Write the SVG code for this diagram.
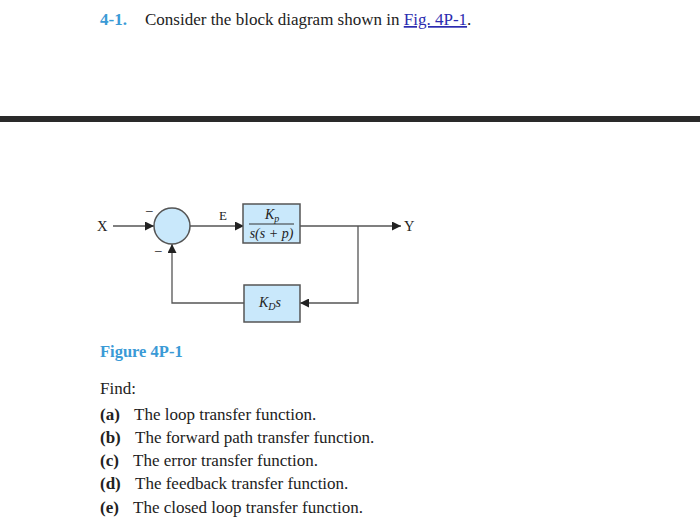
<svg xmlns="http://www.w3.org/2000/svg" width="700" height="530" viewBox="0 0 700 530">
<defs>
<style>
.t{font-family:"Liberation Serif","Times New Roman",serif;fill:#222;}
.txt{font-size:17px;}
.b{font-weight:bold;}
.blue{fill:#3a9ad6;}
.link{fill:#2b2bb0;text-decoration:underline;}
.ln{stroke:#555;stroke-width:1.3;fill:none;}
.blk{fill:#c9e8fb;stroke:#555;stroke-width:1.5;}
.lbl{font-size:14.5px;}
.it{font-style:italic;}
</style>
<marker id="ah" viewBox="0 0 10 10" refX="10" refY="5" markerWidth="9" markerHeight="9" markerUnits="userSpaceOnUse" orient="auto">
<path d="M0,0 L10,5 L0,10 z" fill="#222"/>
</marker>
</defs>
<rect width="700" height="530" fill="#fff"/>
<text class="t txt" x="100" y="25"><tspan class="b blue">4-1.</tspan><tspan x="145">Consider the block diagram shown in </tspan><tspan class="link">Fig. 4P-1</tspan><tspan>.</tspan></text>
<rect x="0" y="116" width="700" height="6" fill="#2a2a2a"/>
<g id="connectors">
<line class="ln" x1="113" y1="226" x2="154" y2="226" marker-end="url(#ah)"/>
<line class="ln" x1="190" y1="226" x2="244" y2="226" marker-end="url(#ah)"/>
<line class="ln" x1="300" y1="226" x2="401" y2="226" marker-end="url(#ah)"/>
<polyline class="ln" points="358,226 358,303 300,303" marker-end="url(#ah)"/>
<polyline class="ln" points="244,303 172,303 172,244" marker-end="url(#ah)"/>
</g>
<g id="sum">
<circle class="blk" cx="172" cy="226" r="18"/>
<text class="t lbl" x="145" y="216">−</text>
<text class="t lbl" x="154" y="256">−</text>
</g>
<g id="input"><text class="t lbl" x="97" y="231">X</text></g>
<g id="output"><text class="t lbl" x="404" y="231">Y</text></g>
<g id="err"><text class="t" x="219" y="220" font-size="13">E</text></g>
<g id="forward">
<rect class="blk" x="243" y="204" width="57" height="39"/>
<text class="t it" x="265" y="219" font-size="14">K<tspan font-size="10" dy="3">p</tspan></text>
<line x1="249" y1="224" x2="294" y2="224" stroke="#333" stroke-width="1"/>
<text class="t it" x="271.5" y="238" text-anchor="middle" font-size="14">s(s + p)</text>
</g>
<g id="feedback">
<rect class="blk" x="244" y="285" width="56" height="37"/>
<text class="t it" x="259" y="307" font-size="14">K<tspan font-size="10" dy="3">D</tspan><tspan dy="-3">s</tspan></text>
</g>
<text class="t b blue" x="100" y="357" font-size="16.5">Figure 4P-1</text>
<text class="t txt" x="100" y="394">Find:</text>
<text class="t txt" x="100" y="420"><tspan class="b">(a)</tspan><tspan x="134">The loop transfer function.</tspan></text>
<text class="t txt" x="100" y="443"><tspan class="b">(b)</tspan><tspan x="135">The forward path transfer function.</tspan></text>
<text class="t txt" x="100" y="466"><tspan class="b">(c)</tspan><tspan x="133">The error transfer function.</tspan></text>
<text class="t txt" x="100" y="489"><tspan class="b">(d)</tspan><tspan x="135">The feedback transfer function.</tspan></text>
<text class="t txt" x="100" y="513"><tspan class="b">(e)</tspan><tspan x="133">The closed loop transfer function.</tspan></text>
</svg>
